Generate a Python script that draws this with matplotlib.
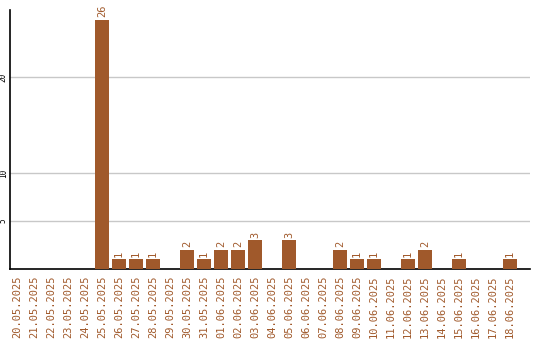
import matplotlib
matplotlib.use("Agg")
import matplotlib.pyplot as plt

dates = ["20.05.2025", "21.05.2025", "22.05.2025", "23.05.2025", "24.05.2025",
         "25.05.2025", "26.05.2025", "27.05.2025", "28.05.2025", "29.05.2025",
         "30.05.2025", "31.05.2025", "01.06.2025", "02.06.2025", "03.06.2025",
         "04.06.2025", "05.06.2025", "06.06.2025", "07.06.2025", "08.06.2025",
         "09.06.2025", "10.06.2025", "11.06.2025", "12.06.2025", "13.06.2025",
         "14.06.2025", "15.06.2025", "16.06.2025", "17.06.2025", "18.06.2025"]
counts = [0, 0, 0, 0, 0, 26, 1, 1, 1, 0,
          2, 1, 2, 2, 3, 0, 3, 0, 0, 2,
          1, 1, 0, 1, 2, 0, 1, 0, 0, 1]
yticks = [5, 10, 20]

color = "#A0592B"
fig = plt.figure(figsize=(5.4, 3.4), dpi=100)
ax = fig.add_axes([10/540, 71/340, 520/540, 259/340])
x = list(range(len(dates)))
ax.bar(x, counts, width=0.82, color=color, zorder=3)
for xi, c in zip(x, counts):
    if c > 0:
        ax.text(xi, c + 0.25, str(c), rotation=90, ha="center", va="bottom",
                color=color, fontsize=7.5, family="DejaVu Sans Mono")
ax.set_xlim(-0.41, 30.18)
ax.set_ylim(0, 27)
ax.set_yticks(yticks)
ax.set_yticklabels([str(t) for t in yticks], rotation=90, va="center",
                   fontsize=5.5, family="DejaVu Sans Mono")
ax.tick_params(axis="y", length=0, pad=1.5)
ax.set_xticks(x)
ax.set_xticklabels(dates, rotation=90, color=color, fontsize=7.5,
                   family="DejaVu Sans Mono", va="top")
ax.tick_params(axis="x", length=0, pad=5)
ax.grid(axis="y", color="#c8c8c8", linewidth=1, zorder=0)
for s in ["top", "right"]:
    ax.spines[s].set_visible(False)
ax.spines["left"].set_linewidth(1.2)
ax.spines["bottom"].set_linewidth(1.2)
fig.savefig("out.png", dpi=100)
